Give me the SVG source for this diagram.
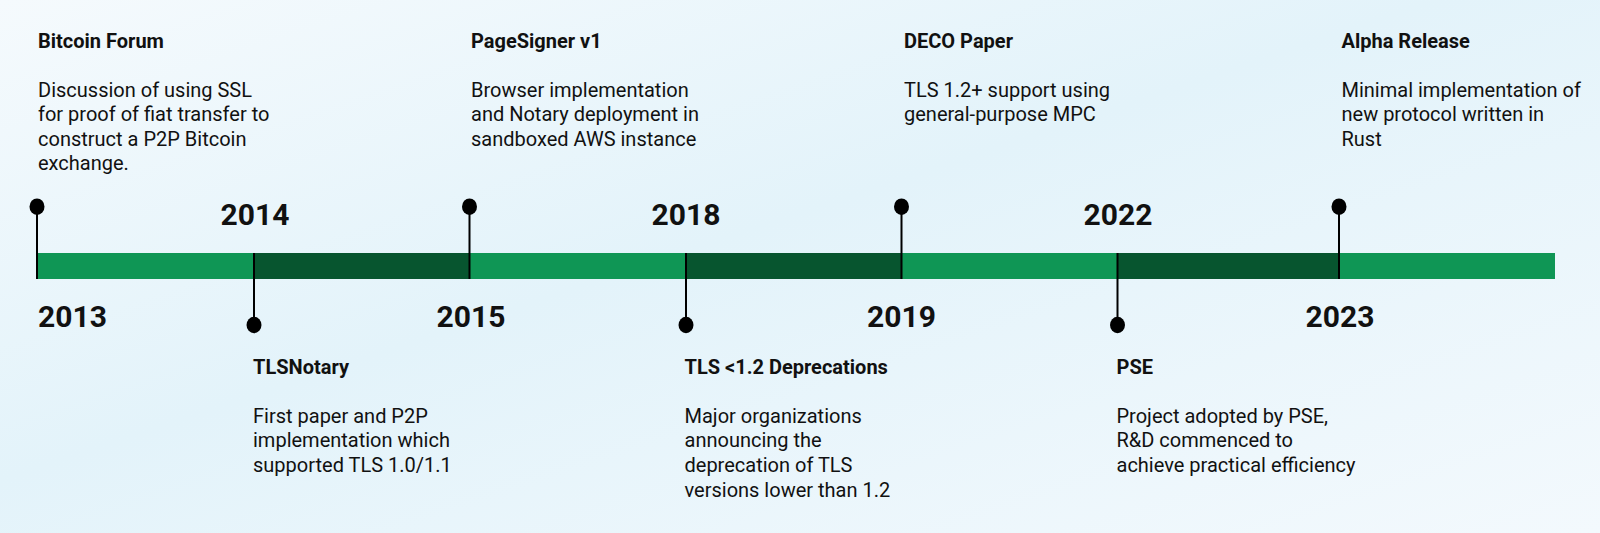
<svg xmlns="http://www.w3.org/2000/svg" width="1600" height="533" viewBox="0 0 1600 533">
<defs>
<linearGradient id="bg" x1="0" y1="0" x2="1" y2="1">
<stop offset="0" stop-color="#F5FAFD"/>
<stop offset="0.45" stop-color="#E3F3FA"/>
<stop offset="1" stop-color="#F3F9FD"/>
</linearGradient>
<style>
.t{font-family:Roboto,"Liberation Sans",sans-serif;font-weight:700;font-size:20px;fill:#111}
.d{font-family:Roboto,"Liberation Sans",sans-serif;font-weight:400;font-size:20px;fill:#111}
.y{font-family:Roboto,"Liberation Sans",sans-serif;font-weight:700;font-size:30px;fill:#111;text-anchor:middle}
.stem{stroke:#000;stroke-width:2;fill:none}
.dot{fill:#000}
.lt{fill:#0F9655}
.dk{fill:#07552F}
</style>
</defs>
<rect width="1600" height="533" fill="url(#bg)"/>
<g id="bar">
<rect class="lt" x="37" y="253" width="1518" height="26"/>
<rect class="dk" x="254" y="253" width="215.5" height="26"/>
<rect class="dk" x="686" y="253" width="215.5" height="26"/>
<rect class="dk" x="1117.5" y="253" width="221.5" height="26"/>
</g>
<g id="connectors">
<line class="stem" x1="37" y1="207" x2="37" y2="279"/>
<line class="stem" x1="254" y1="253" x2="254" y2="325"/>
<line class="stem" x1="469.5" y1="207" x2="469.5" y2="279"/>
<line class="stem" x1="686" y1="253" x2="686" y2="325"/>
<line class="stem" x1="901.5" y1="207" x2="901.5" y2="279"/>
<line class="stem" x1="1117.5" y1="253" x2="1117.5" y2="325"/>
<line class="stem" x1="1339" y1="207" x2="1339" y2="279"/>
</g>
<g id="years">
<text class="y" x="38" y="327" style="text-anchor:start">2013</text>
<text class="y" x="255" y="225">2014</text>
<text class="y" x="471" y="327">2015</text>
<text class="y" x="686" y="225">2018</text>
<text class="y" x="901.5" y="327">2019</text>
<text class="y" x="1118" y="225">2022</text>
<text class="y" x="1340" y="327">2023</text>
</g>
<g id="bitcoin-forum">
<ellipse class="dot" cx="37" cy="206.7" rx="7.5" ry="8.3"/>
<text class="t" x="38" y="48">Bitcoin Forum</text>
<text class="d" x="38" y="97">Discussion of using SSL</text>
<text class="d" x="38" y="121">for proof of fiat transfer to</text>
<text class="d" x="38" y="145.5">construct a P2P Bitcoin</text>
<text class="d" x="38" y="170">exchange.</text>
</g>
<g id="tlsnotary">
<ellipse class="dot" cx="254" cy="325" rx="7.5" ry="8.3"/>
<text class="t" x="253" y="374">TLSNotary</text>
<text class="d" x="253" y="422.7">First paper and P2P</text>
<text class="d" x="253" y="447.3">implementation which</text>
<text class="d" x="253" y="472">supported TLS 1.0/1.1</text>
</g>
<g id="pagesigner">
<ellipse class="dot" cx="469.5" cy="206.7" rx="7.5" ry="8.3"/>
<text class="t" x="471" y="48">PageSigner v1</text>
<text class="d" x="471" y="97">Browser implementation</text>
<text class="d" x="471" y="121">and Notary deployment in</text>
<text class="d" x="471" y="145.5">sandboxed AWS instance</text>
</g>
<g id="tls-deprecations">
<ellipse class="dot" cx="686" cy="325" rx="7.5" ry="8.3"/>
<text class="t" x="684.5" y="374">TLS &lt;1.2 Deprecations</text>
<text class="d" x="684.5" y="422.7">Major organizations</text>
<text class="d" x="684.5" y="447.3">announcing the</text>
<text class="d" x="684.5" y="472">deprecation of TLS</text>
<text class="d" x="684.5" y="496.5">versions lower than 1.2</text>
</g>
<g id="deco">
<ellipse class="dot" cx="901.5" cy="206.7" rx="7.5" ry="8.3"/>
<text class="t" x="904" y="48">DECO Paper</text>
<text class="d" x="904" y="97">TLS 1.2+ support using</text>
<text class="d" x="904" y="121">general-purpose MPC</text>
</g>
<g id="pse">
<ellipse class="dot" cx="1117.5" cy="325" rx="7.5" ry="8.3"/>
<text class="t" x="1116.5" y="374">PSE</text>
<text class="d" x="1116.5" y="422.7">Project adopted by PSE,</text>
<text class="d" x="1116.5" y="447.3">R&amp;D commenced to</text>
<text class="d" x="1116.5" y="472">achieve practical efficiency</text>
</g>
<g id="alpha">
<ellipse class="dot" cx="1339" cy="206.7" rx="7.5" ry="8.3"/>
<text class="t" x="1341.5" y="48">Alpha Release</text>
<text class="d" x="1341.5" y="97">Minimal implementation of</text>
<text class="d" x="1341.5" y="121">new protocol written in</text>
<text class="d" x="1341.5" y="145.5">Rust</text>
</g>
</svg>
